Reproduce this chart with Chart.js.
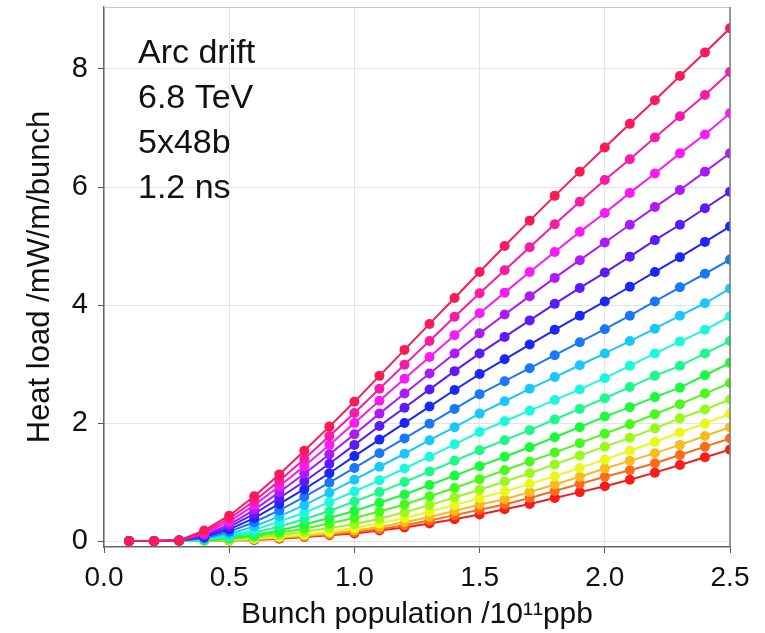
<!DOCTYPE html>
<html>
<head>
<meta charset="utf-8">
<script src="https://cdn.jsdelivr.net/npm/chart.js@4"></script>
<style>
  html, body { margin: 0; background: #fff; }
</style>
</head>
<body>
<canvas id="chart" width="765" height="633"></canvas>
<script>
// bunch population (1e11 ppb) and heat load curves, lowest (red) to highest (rose)
const bunchPop = [0.1, 0.2, 0.3, 0.4, 0.5, 0.6, 0.7, 0.8, 0.9, 1.0, 1.1, 1.2, 1.3,
                  1.4, 1.5, 1.6, 1.7, 1.8, 1.9, 2.0, 2.1, 2.2, 2.3, 2.4, 2.5];

const s01 = [0, 0, 0, 0.01, 0.01, 0.02, 0.04, 0.07, 0.10, 0.13, 0.18, 0.23, 0.30, 0.37, 0.45, 0.54, 0.63, 0.73, 0.83, 0.93, 1.04, 1.16, 1.29, 1.42, 1.55];
const s02 = [0, 0, 0, 0.01, 0.01, 0.03, 0.05, 0.08, 0.11, 0.15, 0.20, 0.27, 0.35, 0.44, 0.53, 0.62, 0.73, 0.85, 0.97, 1.09, 1.20, 1.32, 1.46, 1.60, 1.74];
const s03 = [0, 0, 0, 0.01, 0.02, 0.03, 0.06, 0.09, 0.13, 0.18, 0.24, 0.32, 0.41, 0.51, 0.62, 0.71, 0.83, 0.96, 1.09, 1.23, 1.36, 1.49, 1.63, 1.78, 1.93];
const s04 = [0, 0, 0, 0.01, 0.02, 0.04, 0.07, 0.11, 0.16, 0.22, 0.30, 0.39, 0.50, 0.61, 0.73, 0.84, 0.97, 1.10, 1.24, 1.38, 1.53, 1.68, 1.84, 1.99, 2.16];
const s05 = [0, 0, 0, 0.01, 0.03, 0.06, 0.10, 0.16, 0.22, 0.29, 0.38, 0.49, 0.61, 0.74, 0.87, 1.01, 1.15, 1.30, 1.45, 1.60, 1.75, 1.91, 2.08, 2.23, 2.40];
const s06 = [0, 0, 0, 0.01, 0.04, 0.08, 0.14, 0.21, 0.30, 0.39, 0.50, 0.62, 0.76, 0.90, 1.05, 1.20, 1.35, 1.50, 1.66, 1.82, 1.98, 2.15, 2.32, 2.50, 2.68];
const s07 = [0, 0, 0.01, 0.02, 0.05, 0.10, 0.18, 0.28, 0.39, 0.51, 0.65, 0.79, 0.95, 1.11, 1.27, 1.43, 1.59, 1.76, 1.93, 2.11, 2.27, 2.44, 2.60, 2.81, 3.02];
const s08 = [0, 0, 0.01, 0.02, 0.07, 0.14, 0.25, 0.37, 0.51, 0.67, 0.83, 1.00, 1.18, 1.36, 1.54, 1.71, 1.88, 2.06, 2.24, 2.42, 2.61, 2.80, 2.97, 3.18, 3.39];
const s09 = [0, 0, 0.01, 0.03, 0.09, 0.19, 0.33, 0.48, 0.66, 0.84, 1.03, 1.23, 1.43, 1.64, 1.85, 2.03, 2.21, 2.39, 2.57, 2.76, 2.97, 3.18, 3.38, 3.58, 3.81];
const s10 = [0, 0, 0.01, 0.04, 0.12, 0.25, 0.42, 0.61, 0.82, 1.04, 1.26, 1.48, 1.71, 1.93, 2.16, 2.37, 2.58, 2.78, 2.98, 3.18, 3.39, 3.60, 3.82, 4.03, 4.28];
const s11 = [0, 0, 0.01, 0.05, 0.16, 0.32, 0.52, 0.75, 0.99, 1.24, 1.49, 1.74, 1.99, 2.24, 2.49, 2.71, 2.93, 3.15, 3.37, 3.59, 3.82, 4.06, 4.30, 4.53, 4.77];
const s12 = [0, 0, 0.01, 0.07, 0.20, 0.39, 0.63, 0.88, 1.15, 1.44, 1.72, 2.00, 2.28, 2.56, 2.83, 3.08, 3.33, 3.58, 3.82, 4.06, 4.31, 4.56, 4.81, 5.07, 5.33];
const s13 = [0, 0, 0.01, 0.09, 0.24, 0.46, 0.73, 1.01, 1.31, 1.63, 1.95, 2.26, 2.57, 2.88, 3.18, 3.46, 3.74, 4.02, 4.29, 4.55, 4.82, 5.10, 5.36, 5.64, 5.92];
const s14 = [0, 0, 0.01, 0.11, 0.28, 0.53, 0.83, 1.14, 1.47, 1.81, 2.16, 2.50, 2.84, 3.18, 3.52, 3.84, 4.15, 4.46, 4.76, 5.06, 5.36, 5.66, 5.95, 6.26, 6.57];
const s15 = [0, 0, 0.01, 0.13, 0.33, 0.61, 0.93, 1.27, 1.63, 2.00, 2.38, 2.75, 3.12, 3.49, 3.86, 4.21, 4.56, 4.90, 5.24, 5.56, 5.90, 6.23, 6.57, 6.89, 7.25];
const s16 = [0, 0, 0.01, 0.15, 0.38, 0.68, 1.02, 1.39, 1.78, 2.17, 2.58, 2.99, 3.39, 3.80, 4.20, 4.59, 4.98, 5.37, 5.75, 6.12, 6.47, 6.84, 7.20, 7.56, 7.95];
const s17 = [0, 0, 0.01, 0.18, 0.43, 0.76, 1.13, 1.53, 1.94, 2.36, 2.80, 3.24, 3.68, 4.12, 4.56, 5.00, 5.43, 5.85, 6.26, 6.67, 7.07, 7.47, 7.88, 8.28, 8.69];

const curves = [s01, s02, s03, s04, s05, s06, s07, s08, s09, s10, s11, s12, s13, s14, s15, s16, s17];

const xTicks = [0, 0.5, 1.0, 1.5, 2.0, 2.5];
const yTicks = [0, 2, 4, 6, 8];
const noteLines = ["Arc drift", "6.8 TeV", "5x48b", "1.2 ns"];

const FONT = '"Liberation Sans", Arial, sans-serif';

// hsv-like rainbow, red for the lowest curve round to rose for the highest
const datasets = curves.map((vals, i) => {
  const hue = i * 344 / (curves.length - 1);
  const col = `hsl(${hue}, 95%, 54%)`;
  return {
    data: vals.map((v, j) => ({ x: bunchPop[j], y: v })),
    borderColor: col,
    backgroundColor: col,
    borderWidth: 2,
    pointRadius: 5,
    pointHoverRadius: 5,
    pointBorderWidth: 0,
    clip: 0,
    order: curves.length - i
  };
});

const framePlugin = {
  id: "frame",
  afterDatasetsDraw(chart) {
    const { ctx, chartArea: a } = chart;
    ctx.save();
    ctx.strokeStyle = "#c8c8c8";
    ctx.lineWidth = 1;
    ctx.beginPath();
    ctx.moveTo(a.left, a.top + 0.5);
    ctx.lineTo(a.right, a.top + 0.5);
    ctx.stroke();
    ctx.strokeStyle = "#777";
    ctx.lineWidth = 1.5;
    ctx.beginPath();
    ctx.moveTo(a.right, a.top);
    ctx.lineTo(a.right, a.bottom);
    ctx.stroke();

    ctx.fillStyle = "#111";
    ctx.font = "34px " + FONT;
    ctx.textBaseline = "alphabetic";
    ctx.textAlign = "left";
    noteLines.forEach((t, k) => {
      ctx.fillText(t, a.left + 34, a.top + 56 + k * 45);
    });
    ctx.restore();
  }
};

new Chart(document.getElementById("chart"), {
  type: "line",
  data: { datasets },
  options: {
    responsive: false,
    animation: false,
    layout: { padding: { top: 7, right: 35, left: 0, bottom: 0 } },
    plugins: {
      legend: { display: false },
      tooltip: { enabled: false }
    },
    scales: {
      x: {
        type: "linear",
        min: 0,
        max: 2.5,
        afterBuildTicks: (s) => { s.ticks = xTicks.map(v => ({ value: v })); },
        afterFit: (s) => { s.height = 86; },
        ticks: {
          font: { family: FONT, size: 28 },
          color: "#111",
          padding: 8,
          maxRotation: 0,
          autoSkip: false,
          callback: (v) => Number(v).toFixed(1)
        },
        grid: { color: "#e4e4e4", tickColor: "#555", tickLength: 6 },
        border: { color: "#666", width: 1.5 },
        title: {
          display: true,
          text: "Bunch population /10¹¹ppb",
          font: { family: FONT, size: 30 },
          color: "#111",
          padding: { top: 0, bottom: 0 }
        }
      },
      y: {
        type: "linear",
        min: -0.1,
        max: 9.05,
        afterBuildTicks: (s) => { s.ticks = yTicks.map(v => ({ value: v })); },
        afterFit: (s) => { s.width = 104; s.paddingTop = 0; s.paddingBottom = 0; },
        ticks: {
          font: { family: FONT, size: 29 },
          color: "#111",
          padding: 10,
          callback: (v) => String(v)
        },
        grid: { color: "#e4e4e4", tickColor: "#555", tickLength: 6 },
        border: { color: "#666", width: 1.5 },
        title: {
          display: true,
          text: "Heat load /mW/m/bunch",
          font: { family: FONT, size: 31 },
          color: "#111",
          padding: { top: 22, bottom: 0 }
        }
      }
    }
  },
  plugins: [framePlugin]
});
</script>
</body>
</html>
